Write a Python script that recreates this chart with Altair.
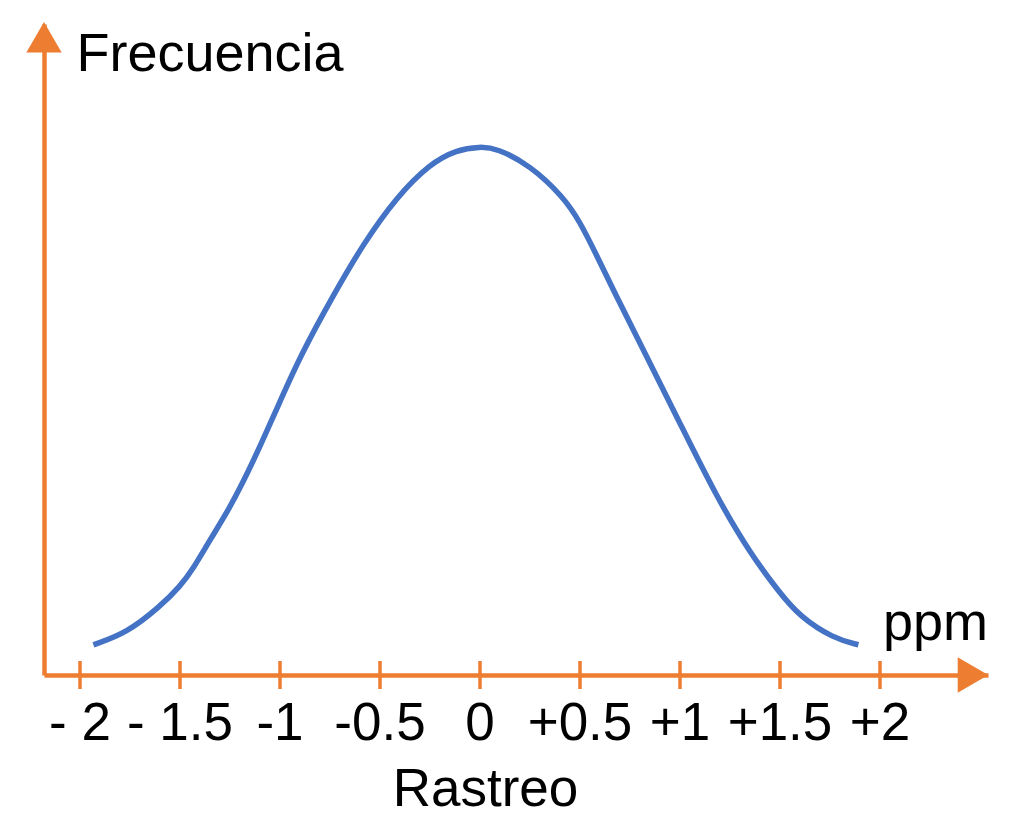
import altair as alt
import pandas as pd

# curve (frequency relative to the peak)
ppm = [-1.933, -1.767, -1.6, -1.5, -1.433, -1.35, -1.267, -1.183, -1.1, -1.0,
       -0.9, -0.733, -0.583, -0.417, -0.25, -0.117, 0.0, 0.083, 0.25, 0.417,
       0.5, 0.583, 0.667, 0.833, 1.0, 1.183, 1.35, 1.5, 1.6, 1.767, 1.892]
freq = [0.057, 0.079, 0.129, 0.167, 0.201, 0.255, 0.305, 0.365, 0.431, 0.516,
        0.601, 0.717, 0.814, 0.902, 0.965, 0.991, 0.997, 0.994, 0.962, 0.902,
        0.855, 0.792, 0.726, 0.601, 0.475, 0.336, 0.230, 0.154, 0.110, 0.069, 0.057]

tick_values = [-2, -1.5, -1, -0.5, 0, 0.5, 1, 1.5, 2]
tick_labels = ["- 2", "- 1.5", "-1", "-0.5", "0", "+0.5", "+1", "+1.5", "+2"]

ORANGE = "#ED7D31"
BLUE = "#4472C4"
FONT = "Liberation Sans"

X_MIN, X_MAX = -2.18, 2.54
Y_MAX = 1.2283

x_scale = alt.Scale(domain=[X_MIN, X_MAX], nice=False, zero=False)
y_scale = alt.Scale(domain=[0, Y_MAX], nice=False)

curve = pd.DataFrame({"ppm": ppm, "freq": freq})
ticks = pd.DataFrame({"ppm": tick_values, "label": tick_labels, "freq": 0.0})
arrows = pd.DataFrame({
    "ppm": [X_MIN, X_MAX - 0.075],
    "freq": [Y_MAX - 0.025, 0.0],
    "shape": ["triangle-up", "triangle-right"],
})
unit = pd.DataFrame({"ppm": [2.015], "freq": [0.066], "text": ["ppm"]})

line = (
    alt.Chart(curve)
    .mark_line(color=BLUE, strokeWidth=5.5, interpolate="basis")
    .encode(
        x=alt.X(
            "ppm:Q",
            scale=x_scale,
            axis=alt.Axis(
                labels=False, ticks=False, grid=False,
                domainColor=ORANGE, domainWidth=4.5,
                title="Rastreo", titleFont=FONT, titleFontSize=53,
                titleFontWeight="normal", titleColor="black",
                titleBaseline="alphabetic", titleAlign="center",
                titleX=441, titleY=130,
            ),
        ),
        y=alt.Y(
            "freq:Q",
            scale=y_scale,
            axis=alt.Axis(
                labels=False, ticks=False, grid=False,
                domainColor=ORANGE, domainWidth=4.5,
                title="Frecuencia", titleFont=FONT, titleFontSize=54,
                titleFontWeight="normal", titleColor="black",
                titleAngle=0, titleAlign="left", titleBaseline="alphabetic",
                titleX=32, titleY=46,
            ),
        ),
    )
)

tick_marks = (
    alt.Chart(ticks)
    .mark_tick(color=ORANGE, orient="vertical", size=28, thickness=3.5, opacity=1)
    .encode(x=alt.X("ppm:Q", scale=x_scale), y=alt.Y("freq:Q", scale=y_scale))
)

tick_text = (
    alt.Chart(ticks)
    .mark_text(font=FONT, fontSize=53, color="black", baseline="alphabetic", dy=65)
    .encode(x=alt.X("ppm:Q", scale=x_scale), y=alt.Y("freq:Q", scale=y_scale), text="label:N")
)

arrow_heads = (
    alt.Chart(arrows)
    .mark_point(filled=True, color=ORANGE, size=1250, opacity=1)
    .encode(
        x=alt.X("ppm:Q", scale=x_scale),
        y=alt.Y("freq:Q", scale=y_scale),
        shape=alt.Shape("shape:N", scale=None),
    )
)

unit_text = (
    alt.Chart(unit)
    .mark_text(font=FONT, fontSize=54, color="black", align="left", baseline="alphabetic")
    .encode(x=alt.X("ppm:Q", scale=x_scale), y=alt.Y("freq:Q", scale=y_scale), text="text:N")
)

chart = (
    alt.layer(line, tick_marks, tick_text, arrow_heads, unit_text)
    .properties(
        width=944,
        height=651,
        autosize=alt.AutoSizeParams(type="none"),
        padding={"left": 36, "top": 16, "right": 20, "bottom": 142},
        background="white",
    )
    .configure_view(stroke=None)
)

chart.save("out.html", embed_options={"renderer": "svg", "actions": False})
